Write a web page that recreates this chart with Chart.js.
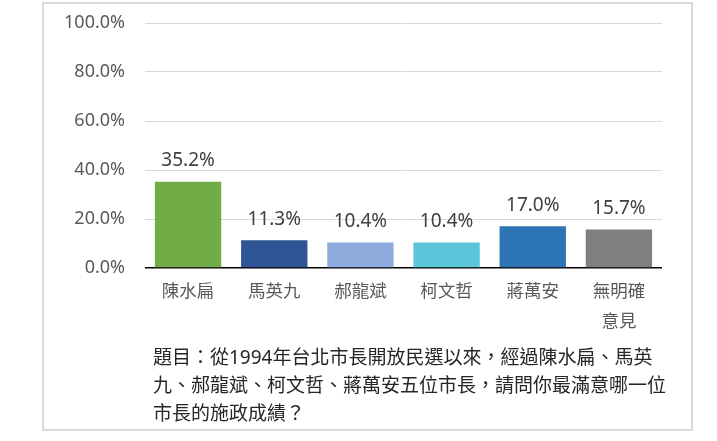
<!DOCTYPE html>
<html><head><meta charset="utf-8">
<script src="https://cdn.jsdelivr.net/npm/chart.js@4.4.1/dist/chart.umd.min.js"></script>
<style>
html,body{margin:0;padding:0;background:#fff;}
#wrap{position:relative;width:717px;height:441px;overflow:hidden;}
#frame{position:absolute;left:42px;top:2px;width:647px;height:425px;border:2px solid #dadada;}
canvas{position:absolute;left:0;top:0;}
</style></head><body>
<div id="wrap"><div id="frame"></div><canvas id="c" width="717" height="441"></canvas></div>
<script>
const categories = ['陳水扁', '馬英九', '郝龍斌', '柯文哲', '蔣萬安', ['無明確', '意見']];
const values = [35.2, 11.3, 10.4, 10.4, 17.0, 15.7];
const barColors = ['#70AD47', '#2F5597', '#8FAADC', '#5BC5D9', '#2E75B6', '#7F7F7F'];
const yTickValues = [0, 20, 40, 60, 80, 100];
const footerLines = [
  '題目：從1994年台北市長開放民選以來，經過陳水扁、馬英',
  '九、郝龍斌、柯文哲、蔣萬安五位市長，請問你最滿意哪一位',
  '市長的施政成績？'
];

const NUM_FONT = '"Noto Sans", "Noto Sans CJK TC", sans-serif';
const CJK_FONT = '"Noto Sans", "Noto Sans CJK TC", sans-serif';

const valueLabels = {
  id: 'valueLabels',
  afterDatasetsDraw(chart) {
    const ctx = chart.ctx;
    const meta = chart.getDatasetMeta(0);
    ctx.save();
    ctx.font = '19px ' + NUM_FONT;
    ctx.fillStyle = '#404040';
    ctx.textAlign = 'center';
    ctx.textBaseline = 'middle';
    meta.data.forEach((el, i) => {
      ctx.fillText(values[i].toFixed(1) + '%', el.x, el.y - 21);
    });
    ctx.restore();
  }
};

const footerText = {
  id: 'footerText',
  afterDraw(chart) {
    const ctx = chart.ctx;
    const a = chart.chartArea;
    ctx.save();
    ctx.font = '19px ' + CJK_FONT;
    ctx.fillStyle = '#262626';
    ctx.textAlign = 'left';
    ctx.textBaseline = 'middle';
    footerLines.forEach((line, i) => {
      ctx.fillText(line, a.left + 8, a.bottom + 91 + i * 28);
    });
    ctx.restore();
  }
};

new Chart(document.getElementById('c'), {
  type: 'bar',
  data: {
    labels: categories,
    datasets: [{
      data: values,
      backgroundColor: barColors,
      borderWidth: 0,
      categoryPercentage: 1,
      barPercentage: 0.77
    }]
  },
  options: {
    responsive: false,
    animation: false,
    layout: { padding: { top: 23, left: 45, right: 55, bottom: 104 } },
    plugins: { legend: { display: false }, tooltip: { enabled: false }, title: { display: false } },
    scales: {
      x: {
        grid: { display: false, drawTicks: false },
        border: { display: false },
        afterFit(scale) { scale.height = 69; },
        ticks: {
          color: '#595959',
          font: { family: CJK_FONT, size: 17.5, lineHeight: '30px' },
          padding: 9,
          maxRotation: 0,
          minRotation: 0,
          autoSkip: false
        }
      },
      y: {
        min: yTickValues[0],
        max: yTickValues[yTickValues.length - 1],
        afterBuildTicks(scale) { scale.ticks = yTickValues.map(v => ({ value: v })); },
        afterFit(scale) { scale.width = 100; scale.paddingTop = 10; scale.paddingBottom = 10; },
        border: { display: false },
        grid: {
          drawTicks: false,
          color: c => (c.tick && c.tick.value === 0) ? '#000000' : '#d9d9d9',
          lineWidth: c => (c.tick && c.tick.value === 0) ? 1.5 : 1
        },
        ticks: {
          color: '#595959',
          font: { family: NUM_FONT, size: 18 },
          padding: 20,
          callback: v => Number(v).toFixed(1) + '%'
        }
      }
    }
  },
  plugins: [valueLabels, footerText]
});
</script>
</body></html>
